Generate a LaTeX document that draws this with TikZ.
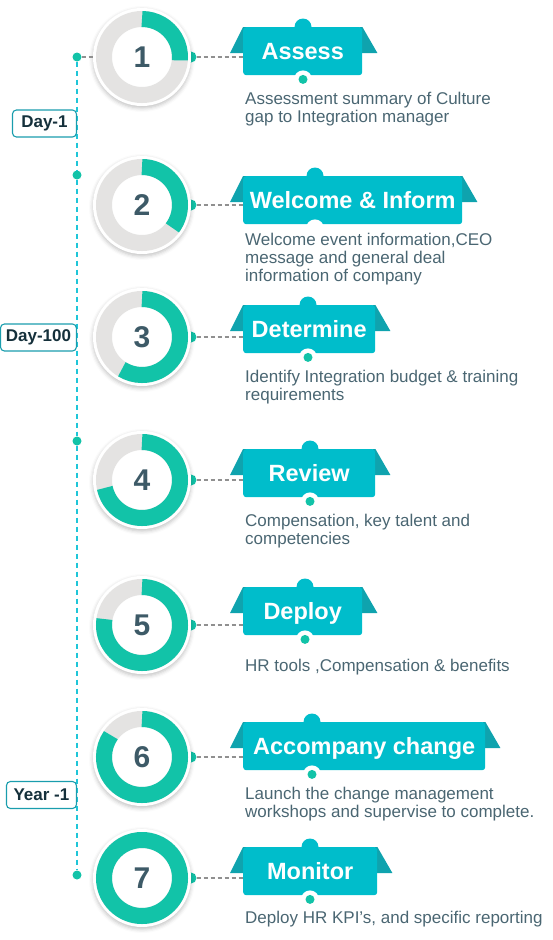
\documentclass[tikz,border=0pt]{standalone}
\usepackage{fontspec}
\setmainfont{Liberation Sans}
\usetikzlibrary{positioning,backgrounds,shadows.blur}
\definecolor{cTeal}{HTML}{00BDCB}
\definecolor{cWing}{HTML}{0FA3AE}
\definecolor{cGreen}{HTML}{12C3A8}
\definecolor{cRing}{HTML}{E4E3E2}
\definecolor{cSlate}{HTML}{3D5A67}
\definecolor{cText}{HTML}{4A6672}
\definecolor{cCyan}{HTML}{1FC6D8}
\definecolor{cInk}{HTML}{15303B}
\definecolor{cFrame}{HTML}{1A9DAD}
\definecolor{cLink}{HTML}{909090}
\tikzset{
  disc/.style  ={circle,fill=white,minimum size=98pt,inner sep=0pt,
                 font=\fontsize{30}{30}\selectfont\bfseries,text=cSlate,
                 blur shadow={shadow xshift=0pt,shadow yshift=-2pt,
                 shadow blur radius=4pt,shadow opacity=25}},
  banner/.style={fill=cTeal,rounded corners=3pt,text=white,anchor=north west,
                 font=\fontsize{23.5}{23.5}\selectfont\bfseries,minimum height=48pt,
                 inner sep=0pt,text height=16.5pt,text depth=0pt},
  desc/.style  ={anchor=base west,align=left,inner sep=0pt,text=cText,
                 font=\fontsize{17}{18}\selectfont},
  tag/.style   ={draw=cFrame,line width=1.1pt,rounded corners=4pt,anchor=east,
                 font=\fontsize{17}{17}\selectfont\bfseries,text=cInk,
                 minimum height=27pt,inner xsep=3pt},
  dot/.style   ={circle,fill=cGreen,inner sep=0pt,minimum size=9pt},
  timeline/.style={cCyan,line width=1.3pt,dash pattern=on 5pt off 4pt},
  link/.style  ={cLink,line width=1.1pt,dash pattern=on 4pt off 3pt},
}
\begin{document}
\begin{tikzpicture}[x=1pt,y=-1pt]
\useasboundingbox (0,0) rectangle (553,940);

% timeline
\node[dot] (t1) at (77,57) {};
\node[dot] (t2) at (77,175) {};
\node[dot] (t3) at (77,441) {};
\node[dot] (t4) at (77,875) {};
\draw[timeline] (t1) -- (t2) (t2) -- (t3) (t3) -- (t4);
\node[tag,minimum width=64pt] (d1) at (77,123.5) {Day-1};
\node[tag,minimum width=76pt] (d2) at (77,337.5) {Day-100};
\node[tag,minimum width=70pt] (d3) at (77,795) {Year -1};

% rings
\foreach \i/\cy in {1/57,2/205,3/337,4/480,5/625,6/757,7/878} {
  \node[dot,minimum size=11pt] (p\i) at (191,\cy) {};
  \node[disc] (r\i) at (142,\cy) {\i};
}
\foreach \i/\sw in {1/95,2/127,3/212,4/258,5/279,6/305,7/362} {
  \draw[cRing,line width=16pt] (r\i.center) circle[radius=38pt];
  \draw[cGreen,line width=16pt] (r\i.center) ++(90:38pt)
    arc[start angle=90,end angle=90-\sw,radius=38pt];
}
\draw[link] (t1) -- (r1);

% banners
\node[banner,minimum width=119pt] (b1) at (243,27) {Assess};
\node[banner,minimum width=219pt] (b2) at (243,176) {Welcome \& Inform};
\node[banner,minimum width=132pt] (b3) at (243,305) {Determine};
\node[banner,minimum width=132pt] (b4) at (243,449) {Review};
\node[banner,minimum width=119pt] (b5) at (243,587) {Deploy};
\node[banner,minimum width=242pt] (b6) at (243,722) {Accompany change};
\node[banner,minimum width=134pt] (b7) at (243,847) {Monitor};

\foreach \i/\off/\dc in {1/60/cGreen,2/72/white,3/65/cGreen,4/67/cGreen,
                         5/62/cGreen,6/69/cGreen,7/67/cGreen} {
  \begin{scope}[on background layer]
  \fill[cWing] (b\i.north west) -- ++(-13,26) -- ++(16,0) -- ++(0,-26) -- cycle;
  \fill[cWing] (b\i.north east) -- ++(15,26) -- ++(-18,0) -- ++(0,-26) -- cycle;
  \end{scope}
  \fill[cTeal] ([xshift=\off pt]b\i.north west) circle[radius=8.5pt];
  \fill[white] ([xshift=\off pt,yshift=-4pt]b\i.south west) circle[radius=9pt];
  \fill[\dc] ([xshift=\off pt,yshift=-4pt]b\i.south west) circle[radius=4.5pt];
  \draw[link] (p\i) -- (p\i -| b\i.west);
}

% descriptions (anchored on the last line)
\node[desc] (s1) at (245,122) {Assessment summary of Culture\\gap to Integration manager};
\node[desc] (s2) at (245,281) {Welcome event information,CEO\\message and general deal\\information of company};
\node[desc] (s3) at (245,400) {Identify Integration budget \& training\\requirements};
\node[desc] (s4) at (245,544) {Compensation, key talent and\\competencies};
\node[desc] (s5) at (245,671) {HR tools ,Compensation \& benefits};
\node[desc] (s6) at (245,817) {Launch the change management\\workshops and supervise to complete.};
\node[desc] (s7) at (245,923) {Deploy HR KPI’s, and specific reporting};
\end{tikzpicture}
\end{document}
